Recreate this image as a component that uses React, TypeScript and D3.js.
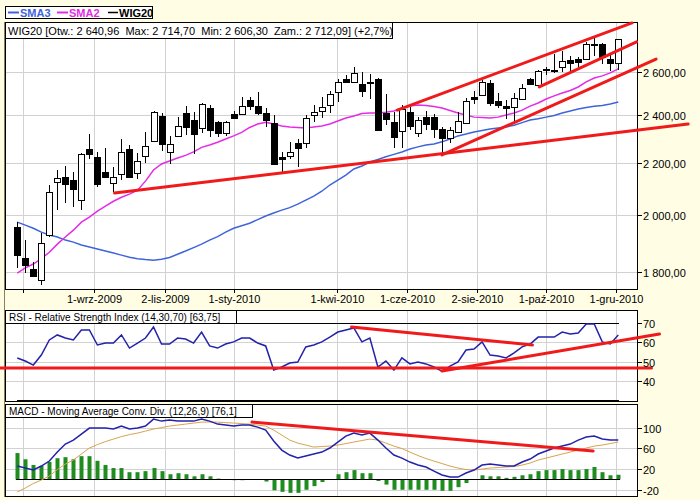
import React from "react";
import * as d3 from "d3";

const parse = d3.timeParse("%Y-%m-%d");

// weekly bars (Fridays)
const firstWeek = "2009-06-26";
const afterLastWeek = "2010-12-04";

const openP = [1955,1847,1810,1774,1927,2123,2143,2131,2054,2256,2223,2163,2119,2155,2256,2159,2228,2290,2397,2244,2311,2410,2379,2345,2432,2370,2323,2405,2405,2468,2441,2410,2366,2223,2228,2281,2281,2401,2419,2446,2505,2566,2552,2542,2552,2566,2410,2370,2332,2414,2323,2392,2392,2340,2302,2328,2366,2482,2491,2547,2464,2441,2437,2473,2566,2538,2608,2603,2622,2656,2661,2661,2736,2736,2661,2640.96];
const highP = [1973,1909,1833,1934,2112,2171,2187,2163,2240,2319,2244,2260,2183,2298,2273,2240,2328,2419,2410,2311,2392,2441,2414,2455,2446,2375,2375,2419,2482,2482,2505,2432,2401,2244,2286,2298,2401,2446,2482,2509,2566,2585,2622,2599,2590,2570,2496,2414,2446,2437,2392,2419,2405,2349,2349,2414,2477,2509,2561,2561,2500,2468,2500,2542,2570,2608,2622,2685,2700,2676,2671,2746,2771,2741,2685,2761];
const lowP = [1814,1797,1784,1758,1920,2017,2043,2028,2017,2215,2104,2140,2084,2131,2140,2135,2199,2288,2248,2195,2307,2315,2236,2323,2307,2307,2310,2386,2401,2423,2401,2349,2193,2163,2215,2183,2260,2370,2388,2410,2459,2547,2547,2482,2473,2334,2357,2260,2260,2336,2307,2336,2302,2232,2281,2326,2362,2450,2487,2441,2432,2383,2370,2468,2538,2536,2585,2594,2599,2599,2618,2659,2676,2637,2603,2606.3];
const closeP = [1857,1824,1787,1899,2084,2139,2115,2096,2236,2236,2115,2143,2143,2244,2143,2207,2269,2414,2277,2277,2353,2349,2319,2450,2336,2323,2370,2388,2441,2441,2410,2379,2195,2215,2244,2260,2388,2414,2437,2496,2552,2552,2594,2509,2547,2336,2383,2307,2428,2353,2379,2362,2340,2302,2336,2375,2464,2473,2552,2455,2446,2432,2477,2523,2542,2603,2613,2608,2651,2642,2646,2736,2731,2671,2642,2761];

const sma3 = [1973,1962,1951,1937,1927,1920,1909,1902,1892,1885,1878,1871,1864,1857,1850,1845,1842,1840,1843,1849,1860,1871,1883,1895,1909,1921,1937,1951,1960,1969,1982,1995,2006,2017,2026,2039,2054,2069,2088,2112,2131,2151,2175,2187,2203,2213,2224,2234,2244,2256,2265,2273,2277,2286,2298,2311,2319,2328,2334,2340,2345,2349,2357,2368,2379,2385,2392,2399,2410,2419,2428,2435,2440,2444,2450,2459];
const sma2 = [1797,1814,1827,1845,1867,1895,1920,1944,1973,1991,2013,2032,2050,2065,2077,2092,2127,2171,2195,2207,2219,2230,2244,2263,2273,2284,2298,2311,2326,2347,2362,2370,2362,2353,2349,2347,2345,2349,2353,2362,2375,2388,2397,2408,2410,2410,2414,2419,2432,2441,2446,2444,2439,2432,2421,2410,2401,2392,2390,2388,2392,2401,2410,2423,2441,2455,2473,2487,2500,2512,2528,2552,2570,2580,2594,2613];

const rsi = [51.9,50.3,48.2,53.4,61.2,63.8,62.2,61.2,66.4,66.4,58.6,59.6,59.6,63.8,57.0,59.6,62.2,67.9,59.1,59.1,62.2,61.7,59.6,65.3,58.1,57.0,59.1,60.2,62.2,62.2,59.6,58.1,45.6,47.2,49.3,49.8,57.6,58.6,60.2,62.7,65.3,66.4,67.4,60.2,62.2,47.2,50.3,45.6,51.9,48.8,49.8,48.8,47.2,45.1,47.7,49.8,56.0,56.5,60.2,53.4,52.9,51.9,54.5,57.6,59.1,62.7,62.7,62.7,65.3,64.3,64.8,69.5,69.5,60.2,59.1,63.75];

const macd = [25.9,22.0,18.2,25.9,35.6,52.9,68.4,76.1,87.7,99.3,99.3,99.3,97.4,103.2,97.4,99.3,103.2,116.7,112.8,114.8,112.8,112.8,112.8,116.7,112.8,107.0,105.1,103.2,105.1,105.1,101.2,95.4,74.2,56.8,47.1,41.3,45.2,49.1,52.9,60.7,72.3,83.9,89.6,85.8,89.6,76.1,60.7,47.1,41.3,33.6,27.8,23.9,16.2,8.5,4.6,4.6,12.4,18.2,27.8,29.8,27.8,25.9,25.9,33.6,39.4,49.1,54.9,60.7,64.5,68.4,76.1,81.9,83.9,78.1,76.1,76.1];
const signal = [-24.3,-16.6,-7.9,-1.2,6.6,19.1,29.8,37.5,49.1,60.7,67.4,73.2,78.1,82.9,86.7,89.6,93.5,97.4,100.3,103.2,105.1,107.0,109.0,110.9,110.9,110.9,109.9,109.0,108.0,107.0,105.1,103.2,95.4,85.8,76.1,70.3,66.5,62.6,63.6,64.5,66.5,69.4,72.3,75.2,78.1,76.1,70.3,64.5,59.7,52.9,46.2,40.4,35.5,30.7,25.9,22.0,19.1,18.2,20.1,22.0,23.0,24.0,24.9,27.8,31.7,37.5,41.3,45.2,49.1,52.9,56.8,60.7,64.5,66.5,69.4,72.3];
const hist = [51,39,28,26,34,41,43,39,45,45,36,28,22,22,14,14,16,22,16,10,12,10,6,10,6,1.5,0,-1.5,-1.5,0,0,-4,-21,-24,-26,-26,-20,-13,-5,0,10,14,18,12,12,-3,-10,-20,-20,-20,-20,-20,-20,-22,-22,-15,-7,0,8,6,6,3,5,8,10,16,18,18,20,18,18,20,24,14,8,9];

const gridDates = ["2009-07-01","2009-09-01","2009-11-02","2010-01-01","2010-04-01","2010-06-01","2010-08-02","2010-10-01","2010-12-01"];
const monthLabels = ["","1-wrz-2009","2-lis-2009","1-sty-2010","1-kwi-2010","1-cze-2010","2-sie-2010","1-paź-2010","1-gru-2010"];
const priceTicks = [1800, 2000, 2200, 2400, 2600];
const rsiTicks = [70, 60, 50, 40];
const rsiLevels = [70, 30];
const macdTicks = [100, 60, 20, -20];

// user trend lines: [date1, value1, date2, value2]
const priceTrends = [
  ["2009-09-19", 2081, "2011-02-02", 2362],
  ["2010-07-02", 2232, "2011-01-05", 2661],
  ["2010-05-24", 2423, "2010-12-15", 2843],
  ["2010-09-25", 2528, "2010-12-19", 2746],
];
const rsiTrends = [
  ["2009-06-11", 46.7, "2011-01-01", 46.7],
  ["2010-04-14", 67.9, "2010-09-19", 58.6],
  ["2010-07-02", 45.1, "2011-01-08", 64.3],
];
const macdTrends = [
  ["2010-01-17", 110.9, "2010-11-11", 54.9],
];

const lastBar = { open: "2 640,96", max: "2 714,70", min: "2 606,30", close: "2 712,09", change: "+2,7%" };
const rsiLabel = "RSI - Relative Strength Index (14,30,70) [63,75]";
const macdLabel = "MACD - Moving Average Conv. Div. (12,26,9) [76,1]";

const FONT = "'Liberation Sans', Arial, sans-serif";
const BG = "#FFFDE4";
const GRID = "#D2D2D2";
const RED = "#F01A1A";

const fmtPrice = (v: number) => d3.format(",.2f")(v).replace(",", " ").replace(".", ",");

export default function App() {
  const dates = d3.timeFriday.range(parse(firstWeek)!, parse(afterLastWeek)!);
  const x = d3.scaleTime().domain([parse("2009-07-01")!, parse("2010-12-01")!]).range([23, 616]);
  const yP = d3.scaleLog().domain([1742, 2848]).range([290, 22]);
  const yR = d3.scaleLinear().domain([29.1, 76.7]).range([402, 310]);
  const yM = d3.scaleLinear().domain([-34, 145.9]).range([497, 404]);

  const L = 5.5, R = 637.5;
  const panels = [
    { top: 22.5, bot: 289.5 },
    { top: 310.5, bot: 401.5 },
    { top: 404.5, bot: 496.5 },
  ];
  const cx = (i: number) => Math.round(x(dates[i]));

  const lineOf = (vals: number[], y: any) =>
    d3.line<number>().x((_, i) => x(dates[i])).y((v) => y(v))(vals) || "";

  const gx = gridDates.map((d) => Math.round(x(parse(d)!)) + 0.5);

  const trend = (t: any[], y: any, k: string) => (
    <line key={k} x1={x(parse(t[0])!)} y1={y(t[1])} x2={x(parse(t[2])!)} y2={y(t[3])}
      stroke={RED} strokeWidth={3} strokeLinecap="round" />
  );

  return (
    <svg width={700} height={500} style={{ position: "fixed", left: 0, top: 0, display: "block" }}
      fontFamily={FONT}>
      <rect x={0} y={0} width={700} height={500} fill={BG} />
      {panels.map((p, i) => (
        <rect key={"bg" + i} x={L} y={p.top} width={R - L} height={p.bot - p.top} fill="#fff" />
      ))}
      {panels.map((p, i) => gx.map((g, j) => (
        <line key={"vg" + i + "-" + j} x1={g} x2={g} y1={p.top} y2={p.bot} stroke={GRID} />
      )))}
      {priceTicks.map((t) => {
        const yy = Math.round(yP(t)) + 0.5;
        return <line key={"hp" + t} x1={L} x2={R} y1={yy} y2={yy} stroke={GRID} />;
      })}
      {rsiTicks.filter((t) => t !== 70).map((t) => {
        const yy = Math.round(yR(t)) + 0.5;
        return <line key={"hr" + t} x1={L} x2={R} y1={yy} y2={yy} stroke={GRID} />;
      })}
      {macdTicks.map((t) => {
        const yy = Math.round(yM(t)) + 0.5;
        return <line key={"hm" + t} x1={L} x2={R} y1={yy} y2={yy} stroke={GRID} />;
      })}

      <path d={lineOf(sma3, yP)} fill="none" stroke="#3E64DA" strokeWidth={1.5} />
      <path d={lineOf(sma2, yP)} fill="none" stroke="#E52BE5" strokeWidth={1.5} />

      {dates.map((d, i) => {
        const c = cx(i) + 0.5;
        const up = closeP[i] >= openP[i];
        const yTop = Math.round(yP(Math.max(openP[i], closeP[i])));
        const yBot = Math.round(yP(Math.min(openP[i], closeP[i])));
        return (
          <g key={"c" + i}>
            <line x1={c} x2={c} y1={Math.round(yP(highP[i]))} y2={Math.round(yP(lowP[i]))} stroke="#000" />
            <rect x={c - 3} y={yTop + 0.5} width={6} height={Math.max(1, yBot - yTop)}
              fill={up ? "#fff" : "#000"} stroke="#000" />
          </g>
        );
      })}

      {rsiLevels.map((l) => {
        const yy = Math.round(yR(l)) + 0.5;
        return <line key={"rl" + l} x1={cx(0)} x2={cx(dates.length - 1) + 1} y1={yy} y2={yy} stroke="#000" />;
      })}
      <path d={lineOf(rsi, yR)} fill="none" stroke="#2222AA" strokeWidth={1.5} />

      {dates.map((d, i) => {
        const c = cx(i);
        const y0 = yM(0), y1 = yM(hist[i]);
        return <rect key={"h" + i} x={c - 1.5} y={Math.min(y0, y1)} width={4} height={Math.abs(y1 - y0)} fill="#1E8C1E" />;
      })}
      <line x1={cx(0) - 1} x2={cx(dates.length - 1) + 2} y1={Math.round(yM(0)) + 0.5} y2={Math.round(yM(0)) + 0.5} stroke="#000" />
      <path d={lineOf(signal, yM)} fill="none" stroke="#D9A24E" strokeWidth={1} />
      <path d={lineOf(macd, yM)} fill="none" stroke="#2222AA" strokeWidth={1.5} />

      {panels.map((p, i) => (
        <rect key={"fr" + i} x={L} y={p.top} width={R - L} height={p.bot - p.top} fill="none" stroke="#000" />
      ))}
      <line x1={4.5} x2={4.5} y1={22} y2={497} stroke="#8A8256" />

      {priceTrends.map((t, i) => trend(t, yP, "tp" + i))}
      {rsiTrends.map((t, i) => trend(t, yR, "tr" + i))}
      {macdTrends.map((t, i) => trend(t, yM, "tm" + i))}

      <rect x={L} y={22.5} width={387} height={16} fill="#fff" stroke="#000" />
      <text x={8} y={35} fontSize={11} style={{ whiteSpace: "pre" }}>
        {`WIG20 [Otw.: ${lastBar.open}  Max: ${lastBar.max}  Min: ${lastBar.min}  Zam.: ${lastBar.close}] (${lastBar.change})`}
      </text>
      <rect x={L} y={310.5} width={231} height={13} fill="#fff" stroke="#000" />
      <text x={9} y={321} fontSize={10}>{rsiLabel}</text>
      <rect x={L} y={404.5} width={247} height={13} fill="#fff" stroke="#000" />
      <text x={9} y={415} fontSize={10}>{macdLabel}</text>

      <rect x={5.5} y={6.5} width={147} height={12} fill="#fff" stroke="#000" />
      <line x1={8} x2={19} y1={12.5} y2={12.5} stroke="#3E64DA" strokeWidth={2} />
      <text x={20} y={17} fontSize={11} fontWeight="bold" fill="#3E64DA">SMA3</text>
      <line x1={57} x2={68} y1={12.5} y2={12.5} stroke="#E52BE5" strokeWidth={2} />
      <text x={69} y={17} fontSize={11} fontWeight="bold" fill="#E52BE5">SMA2</text>
      <line x1={108} x2={118} y1={12.5} y2={12.5} stroke="#000" strokeWidth={1.5} />
      <text x={119} y={17} fontSize={11} fontWeight="bold" fill="#000">WIG20</text>

      {gx.map((g, j) => (
        <g key={"xl" + j}>
          <line x1={g} x2={g} y1={290} y2={293} stroke="#000" />
          {monthLabels[j] && (
            <text x={g} y={303} fontSize={11} textAnchor="middle">{monthLabels[j]}</text>
          )}
        </g>
      ))}

      {priceTicks.map((t) => {
        const yy = Math.round(yP(t)) + 0.5;
        return (
          <g key={"pt" + t}>
            <line x1={637} x2={642} y1={yy} y2={yy} stroke="#000" />
            <text x={643} y={yy + 4} fontSize={11}>{fmtPrice(t)}</text>
          </g>
        );
      })}
      {rsiTicks.map((t) => {
        const yy = Math.round(yR(t)) + 0.5;
        return (
          <g key={"rt" + t}>
            <line x1={637} x2={642} y1={yy} y2={yy} stroke="#000" />
            <text x={643} y={yy + 4} fontSize={11}>{t}</text>
          </g>
        );
      })}
      {macdTicks.map((t) => {
        const yy = Math.round(yM(t)) + 0.5;
        return (
          <g key={"mt" + t}>
            <line x1={637} x2={642} y1={yy} y2={yy} stroke="#000" />
            <text x={643} y={yy + 4} fontSize={11}>{t}</text>
          </g>
        );
      })}
    </svg>
  );
}
